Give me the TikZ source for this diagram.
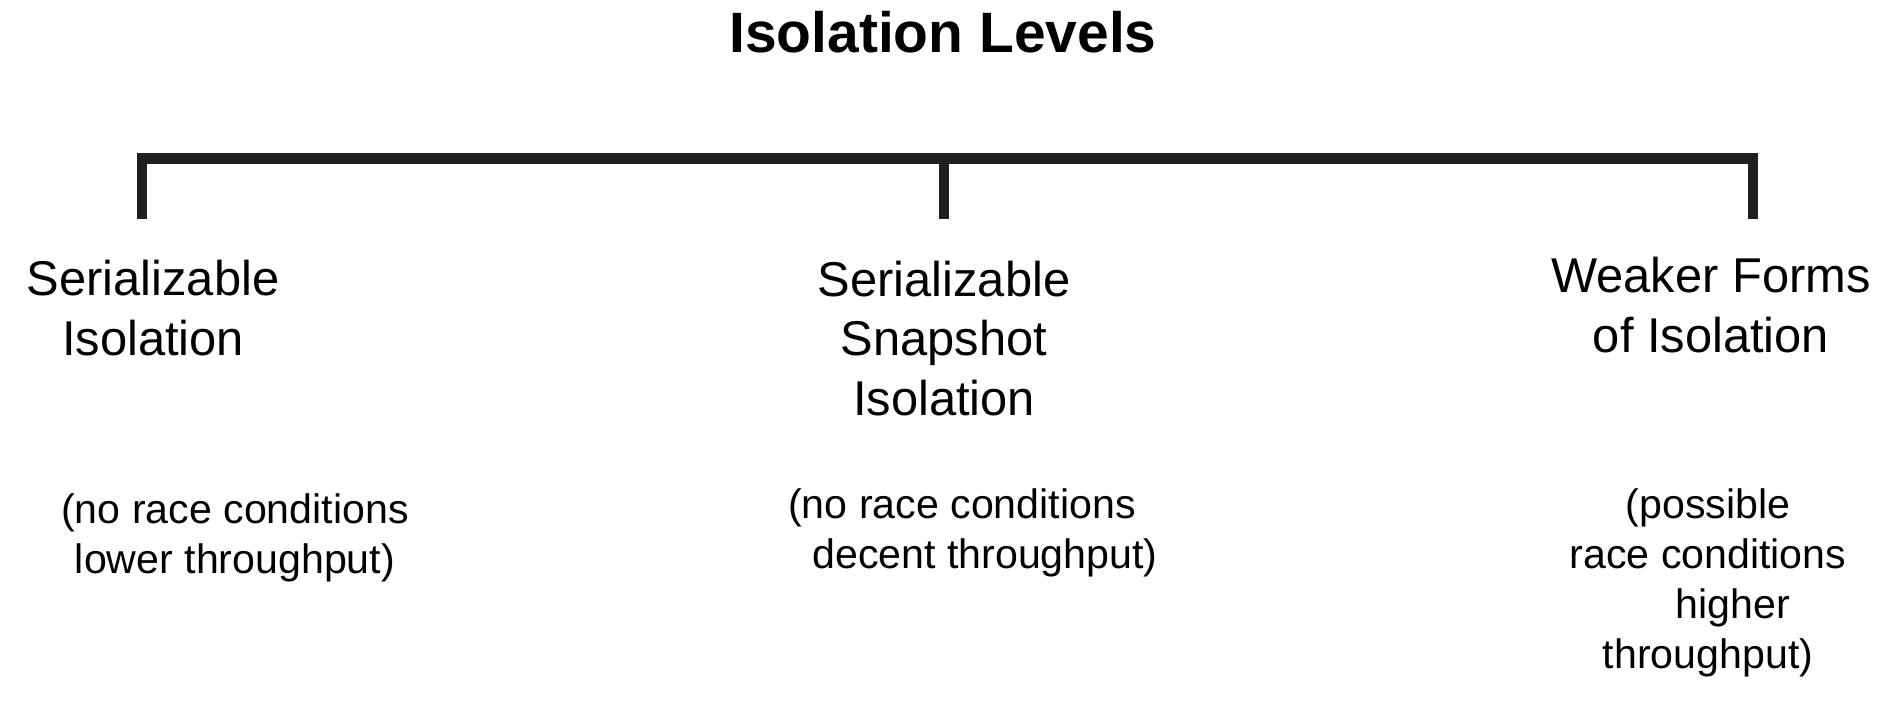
\documentclass[tikz,border=0pt]{standalone}
\usepackage{fontspec}
\setmainfont{Liberation Sans}
\usepackage{tikz}
\usetikzlibrary{positioning}
\tikzset{
	titletext/.style={font=\fontsize{16.2}{19}\selectfont\bfseries, inner sep=0pt, anchor=base}
}
\tikzset{
	leveltext/.style={font=\fontsize{13.9}{16.8}\selectfont, align=center, inner sep=0pt, anchor=base}
}
\tikzset{
	notetext/.style={font=\fontsize{11.7}{14.2}\selectfont, align=center, inner sep=0pt, anchor=base}
}
\tikzset{
	bracket/.style={line width=3.1pt, color=black!88}
}

\begin{document}
\begin{tikzpicture}
      \useasboundingbox (0,0) rectangle (18.96,7);
      % title
      \node[titletext] (title) at (9.43,6.48) {Isolation Levels};
      % bracket
      \coordinate (lb) at (1.42,4.81);
      \coordinate (lt) at (1.42,5.415);
      \coordinate (mb) at (9.44,4.81);
      \coordinate (mt) at (9.44,5.415);
      \coordinate (rb) at (17.53,4.81);
      \coordinate (rt) at (17.53,5.415);
      \draw[bracket] (lb) -- (lt) -- (rt) -- (rb);
      \draw[bracket] (mt) -- (mb);
      % levels (base = last line)
      \node[leveltext] (ser) at (1.53,3.45) {Serializable\\Isolation};
      \node[leveltext] (ssi) at (9.44,2.85) {Serializable\\Snapshot\\Isolation};
      \node[leveltext] (weak) at (17.11,3.48) {Weaker Forms\\of Isolation};
      % notes
      \node[notetext] (sernote) at (2.35,1.27) {(no race conditions\\lower throughput)};
      \node[notetext] (ssinote) at (9.62,1.32) {(no race conditions\\\hspace*{0.46cm}decent throughput)};
      \node[notetext] (weaknote) at (17.08,0.32) {(possible\\race conditions\\\hspace*{0.5cm}higher\\throughput)};
    \end{tikzpicture}
\end{document}
